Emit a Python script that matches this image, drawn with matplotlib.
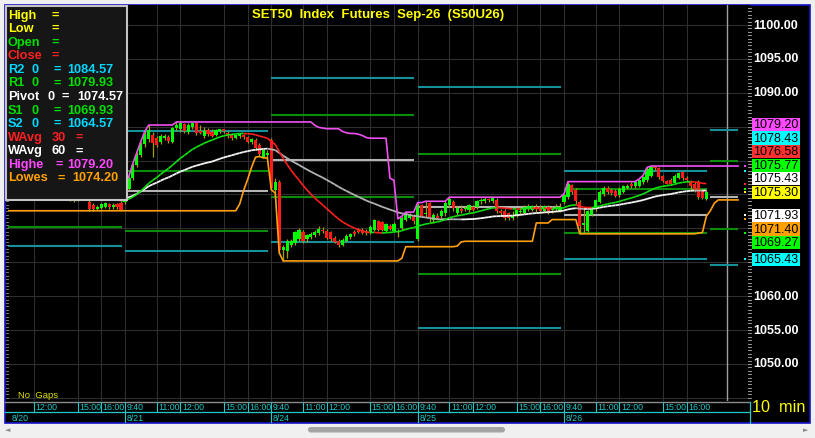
import numpy as np
import pandas as pd
import matplotlib
matplotlib.use("Agg")
import matplotlib.pyplot as plt
from matplotlib.collections import LineCollection
from matplotlib.patches import Rectangle, FancyBboxPatch

plt.rcParams['font.family'] = ['Liberation Sans', 'DejaVu Sans']

# ------------------------------------------------------------------ data
# 10-minute bars, 37 per session: 8/20, 8/21, 8/24, 8/25, 8/26
opens = [
    1073.0, 1073.4, 1076.2, 1079.5, 1080.2, 1078.3, 1076.8, 1075.9, 1075.6, 1075.5, 1076.0, 1075.8, 1075.5,
    1075.2, 1075.4, 1075.8, 1076.1, 1075.9, 1075.6, 1075.3, 1075.1, 1074.9, 1074.8, 1074.6, 1074.5, 1074.6,
    1074.7, 1074.6, 1073.9, 1073.5, 1072.9, 1073.0, 1073.2, 1073.6, 1073.1, 1073.6, 1073.8,
    1073.9, 1075.8, 1077.5, 1079.3, 1080.8, 1082.4, 1083.2, 1083.8, 1083.3, 1082.8, 1083.3, 1083.5, 1082.8,
    1084.8, 1084.6, 1085.4, 1084.2, 1084.9, 1085.6, 1084.4, 1083.6, 1084.5, 1084.2, 1083.8, 1084.3, 1084.6,
    1084.1, 1083.9, 1083.4, 1083.6, 1083.8, 1083.5, 1082.8, 1083.1, 1082.3, 1080.6, 1080.8,
    1083.1, 1075.6, 1076.8, 1066.8, 1066.6, 1067.5, 1067.8, 1068.4, 1069.5, 1068.4, 1068.8, 1069.0, 1069.3,
    1069.8, 1069.6, 1069.4, 1068.6, 1068.2, 1067.6, 1068.2, 1068.7, 1069.5, 1069.8, 1069.7, 1069.5, 1069.3,
    1069.8, 1071.1, 1070.9, 1069.6, 1070.4, 1069.6, 1069.4, 1070.0, 1071.3, 1071.6, 1071.9,
    1068.4, 1073.4, 1072.1, 1073.7, 1071.2, 1071.8, 1071.9, 1072.2, 1073.4, 1073.9, 1072.3, 1072.8, 1072.8,
    1072.7, 1073.2, 1073.1, 1074.0, 1074.0, 1074.3, 1074.0, 1074.2, 1072.5, 1072.6, 1072.2, 1071.6, 1071.9,
    1072.4, 1072.3, 1072.8, 1072.7, 1073.2, 1073.1, 1072.6, 1073.2, 1072.7, 1072.9, 1072.6,
    1073.9, 1074.6, 1076.4, 1075.6, 1073.9, 1070.5, 1069.6, 1072.0, 1072.8, 1073.9, 1075.0, 1076.0, 1075.6,
    1075.5, 1074.9, 1075.4, 1076.0, 1076.6, 1076.2, 1076.3, 1076.8, 1077.1, 1077.8, 1079.0, 1078.9, 1077.7,
    1077.0, 1077.2, 1076.7, 1077.5, 1078.3, 1077.4, 1076.9, 1076.6, 1076.9, 1075.5, 1074.4,
]
highs = [
    1073.6, 1076.5, 1079.8, 1081.4, 1080.6, 1078.7, 1077.2, 1076.3, 1075.9, 1076.2, 1076.4, 1076.1, 1075.9,
    1075.6, 1076.0, 1076.3, 1076.5, 1076.2, 1075.9, 1075.7, 1075.5, 1075.3, 1075.1, 1074.9, 1074.8, 1075.0,
    1075.0, 1074.8, 1074.3, 1073.8, 1073.4, 1073.8, 1073.9, 1073.8, 1073.7, 1073.8, 1074.1,
    1076.0, 1077.7, 1079.6, 1081.2, 1082.8, 1084.3, 1085.25, 1084.2, 1083.6, 1083.9, 1083.9, 1083.8, 1085.0,
    1085.7, 1085.7, 1085.6, 1085.5, 1085.6, 1085.7, 1085.2, 1084.9, 1084.8, 1084.7, 1084.7, 1084.7, 1084.7,
    1084.3, 1084.1, 1083.9, 1084.0, 1083.9, 1083.7, 1083.4, 1083.3, 1082.6, 1081.7, 1081.6,
    1083.3, 1077.4, 1077.1, 1067.6, 1068.5, 1068.5, 1069.6, 1070.0, 1069.8, 1069.2, 1069.4, 1069.7, 1070.3,
    1070.2, 1069.9, 1069.6, 1068.9, 1068.4, 1068.6, 1069.1, 1069.3, 1069.8, 1070.1, 1070.0, 1069.9, 1070.5,
    1071.4, 1071.3, 1071.1, 1070.8, 1070.6, 1070.9, 1069.9, 1071.8, 1072.4, 1072.2, 1072.1,
    1073.8, 1073.6, 1074.0, 1073.9, 1072.3, 1072.3, 1072.8, 1074.0, 1074.6, 1074.2, 1073.3, 1073.4, 1073.3,
    1073.6, 1073.5, 1074.2, 1074.5, 1074.6, 1074.5, 1074.6, 1074.5, 1072.8, 1072.8, 1072.4, 1072.6, 1072.9,
    1073.2, 1073.4, 1073.6, 1073.5, 1073.6, 1073.4, 1073.5, 1073.5, 1073.3, 1073.6, 1073.8,
    1075.1, 1076.9, 1076.6, 1075.9, 1074.2, 1072.8, 1072.7, 1073.2, 1074.4, 1075.6, 1076.2, 1076.3, 1075.9,
    1075.8, 1076.1, 1076.4, 1076.6, 1076.9, 1076.9, 1077.3, 1077.8, 1079.0, 1079.2, 1079.2, 1079.1, 1077.9,
    1077.2, 1077.4, 1078.0, 1078.3, 1078.5, 1077.7, 1077.1, 1076.9, 1077.1, 1075.8, 1075.6,
]
lows = [
    1072.6, 1073.2, 1076.0, 1078.8, 1077.9, 1076.4, 1075.6, 1075.2, 1074.8, 1075.3, 1075.6, 1075.3, 1075.0,
    1074.8, 1075.2, 1075.5, 1075.7, 1075.4, 1075.0, 1074.9, 1074.6, 1074.5, 1074.4, 1074.0, 1073.9, 1074.0,
    1074.3, 1074.3, 1072.6, 1072.6, 1072.7, 1072.9, 1073.0, 1072.9, 1072.9, 1072.9, 1072.6,
    1073.6, 1075.6, 1077.2, 1079.0, 1080.5, 1082.0, 1082.8, 1080.6, 1082.0, 1082.5, 1083.0, 1082.6, 1082.6,
    1084.4, 1084.2, 1084.1, 1083.9, 1084.6, 1083.8, 1083.9, 1083.4, 1083.7, 1083.5, 1083.6, 1084.1, 1084.1,
    1083.4, 1083.1, 1083.2, 1083.4, 1083.2, 1082.6, 1082.5, 1081.6, 1080.7, 1080.4, 1080.4,
    1075.7, 1075.2, 1066.4, 1065.2, 1065.6, 1067.3, 1067.5, 1068.1, 1067.9, 1068.0, 1068.5, 1068.8, 1069.0,
    1069.3, 1068.4, 1068.2, 1067.8, 1067.3, 1067.4, 1068.0, 1068.5, 1068.9, 1069.3, 1069.1, 1069.0, 1069.1,
    1069.6, 1069.6, 1069.6, 1069.4, 1069.7, 1069.4, 1068.7, 1069.8, 1071.1, 1071.4, 1070.6,
    1068.1, 1071.8, 1071.7, 1071.0, 1070.8, 1071.3, 1071.6, 1071.9, 1073.1, 1072.5, 1072.0, 1072.2, 1072.5,
    1072.4, 1072.5, 1072.9, 1073.6, 1073.8, 1073.9, 1073.8, 1072.3, 1071.8, 1071.3, 1071.3, 1071.3, 1071.7,
    1072.0, 1072.1, 1072.5, 1072.5, 1072.4, 1072.3, 1072.4, 1072.1, 1072.3, 1072.6, 1072.4,
    1073.6, 1074.4, 1075.1, 1073.4, 1069.2, 1069.3, 1069.4, 1071.8, 1072.6, 1073.7, 1074.8, 1075.1, 1074.9,
    1074.6, 1074.7, 1075.2, 1075.8, 1075.9, 1076.0, 1076.1, 1076.6, 1076.9, 1077.6, 1078.6, 1077.3, 1076.9,
    1076.5, 1076.4, 1076.5, 1077.3, 1077.2, 1076.9, 1075.8, 1075.3, 1074.4, 1074.3, 1074.2,
]
closes = [
    1073.4, 1076.2, 1079.5, 1080.2, 1078.3, 1076.8, 1075.9, 1075.6, 1075.5, 1076.0, 1075.8, 1075.5, 1075.2,
    1075.4, 1075.8, 1076.1, 1075.9, 1075.6, 1075.3, 1075.1, 1074.9, 1074.8, 1074.6, 1074.5, 1074.6, 1074.7,
    1074.6, 1074.4, 1072.8, 1072.8, 1073.2, 1073.6, 1073.7, 1073.1, 1073.5, 1073.1, 1072.7,
    1075.8, 1077.5, 1079.3, 1080.8, 1082.4, 1083.9, 1084.5, 1082.6, 1082.3, 1083.6, 1083.7, 1082.9, 1084.8,
    1085.2, 1085.5, 1084.4, 1085.2, 1085.5, 1084.1, 1084.0, 1084.3, 1083.9, 1083.7, 1084.5, 1084.6, 1084.3,
    1083.6, 1083.3, 1083.8, 1083.9, 1083.5, 1082.8, 1083.2, 1081.8, 1081.0, 1081.5, 1081.1,
    1076.0, 1076.8, 1066.8, 1067.3, 1068.2, 1068.2, 1069.4, 1069.7, 1068.2, 1069.0, 1069.2, 1069.4, 1069.9,
    1069.6, 1068.6, 1068.4, 1068.0, 1067.6, 1068.3, 1068.9, 1069.1, 1069.2, 1069.5, 1069.3, 1069.3, 1070.2,
    1071.2, 1069.8, 1069.8, 1070.6, 1069.9, 1070.7, 1069.6, 1071.5, 1072.2, 1072.0, 1071.1,
    1073.5, 1071.8, 1072.3, 1071.5, 1072.0, 1071.6, 1072.6, 1073.7, 1074.3, 1073.0, 1073.0, 1072.6, 1073.0,
    1073.4, 1072.7, 1074.0, 1074.1, 1074.4, 1074.2, 1074.5, 1072.6, 1072.3, 1071.5, 1071.6, 1071.8, 1072.7,
    1072.6, 1073.2, 1073.3, 1073.3, 1072.8, 1072.6, 1073.3, 1072.4, 1072.9, 1073.2, 1073.1,
    1074.9, 1076.6, 1075.3, 1074.0, 1070.3, 1070.8, 1072.5, 1073.0, 1074.2, 1075.4, 1076.0, 1075.3, 1075.2,
    1074.8, 1075.8, 1076.2, 1076.3, 1076.2, 1076.8, 1077.1, 1077.6, 1078.8, 1079.0, 1078.9, 1077.6, 1077.0,
    1076.6, 1076.6, 1077.8, 1078.1, 1077.4, 1077.1, 1076.2, 1075.6, 1074.6, 1074.5, 1075.3,
]

day_labels = ['8/20', '8/21', '8/24', '8/25', '8/26']
day_start = [0, 37, 74, 111, 148]
time_labels = ['9:40', '11:00', '12:00', '15:00', '16:00']
time_offsets = [0, 8, 14, 25, 31]

# daily floor-trader pivot levels (last entry = next session, projected)
pivot_start = [0, 37, 74, 111, 148, 185]
pivot_end = [36.2, 73.2, 110.2, 147.2, 184.2, 192.0]
lvl_r2 = [1082.0, 1084.4, 1092.2, 1090.9, 1078.43, 1084.57]
lvl_r1 = [1078.0, 1078.5, 1086.7, 1081.0, 1075.77, 1079.93]
lvl_p = [1075.2, 1075.5, 1080.1, 1073.1, 1071.93, 1074.57]
lvl_s1 = [1070.2, 1069.6, 1074.6, 1063.2, 1069.27, 1069.93]
lvl_s2 = [1067.4, 1066.6, 1068.0, 1055.3, 1065.43, 1064.57]

hl_period = 30
wavg_fast = 30
wavg_slow = 60
cursor_bar = 189.2

price_ticks = [1050, 1055, 1060, 1065, 1070, 1075, 1080, 1085, 1090, 1095, 1100]

tag_values = [1079.20, 1078.43, 1076.58, 1075.77, 1075.43, 1075.30, 1071.93, 1071.40, 1069.27, 1065.43]
tag_colors = ['#ff48ff', '#00ffff', '#ff3030', '#00ff00', '#ffffff', '#ffff00', '#ffffff', '#ffa000',
              '#00ff00', '#00ffff']
tag_anchor = 5   # last close

legend_keys = ['High', 'Low', 'Open', 'Close', 'R2', 'R1', 'Pivot', 'S1', 'S2', 'WAvg', 'WAvg', 'Highe', 'Lowes']
legend_params = ['', '', '', '', '0', '0', '0', '0', '0', '30', '60', '', '']
legend_values = ['', '', '', '', '1084.57', '1079.93', '1074.57', '1069.93', '1064.57', '', '', '1079.20', '1074.20']
legend_colors = ['#ffff00', '#ffff00', '#00e000', '#ff2020', '#00d8ff', '#00e000', '#ffffff', '#00e000',
                 '#00d8ff', '#ff2020', '#ffffff', '#ff48ff', '#ffa000']

# ------------------------------------------------------------------ figure
W, H = 815, 438
fig = plt.figure(figsize=(W / 100, H / 100), dpi=100)
fig.patch.set_facecolor('#f0f0f0')


def rect(x0, y0, x1, y1):
    return [x0 / W, 1 - y1 / H, (x1 - x0) / W, (y1 - y0) / H]


bg = fig.add_axes([0, 0, 1, 1], zorder=0)
bg.set_xlim(0, W)
bg.set_ylim(H, 0)
bg.axis('off')
bg.add_patch(Rectangle((4.5, 4.5), 805, 418.5, facecolor='black', edgecolor='#1414c8', lw=1.2))

ax = fig.add_axes(rect(8, 5, 750, 401), zorder=1)
ax.set_facecolor('black')
ax.set_xlim(7.42, 195.03)
ax.set_ylim(1044.54, 1102.95)
for s in ax.spines.values():
    s.set_visible(False)
ax.set_xticks([])
ax.set_yticks([])

ov = fig.add_axes([0, 0, 1, 1], zorder=2)
ov.set_xlim(0, W)
ov.set_ylim(H, 0)
ov.axis('off')
ov.patch.set_alpha(0)


def xpix(i):
    return ax.transData.transform((i, 1070))[0]


def ypix(p):
    return H - ax.transData.transform((0, p))[1]


o = np.array(opens)
h = np.array(highs)
l = np.array(lows)
c = np.array(closes)
idx = np.arange(len(c))

# grid
grid_col = '#2e2e2e'
ax.hlines(np.arange(1045, 1101, 5), 0, 200, colors=grid_col, lw=0.8, zorder=0.5)
tick_bars, tick_text = [], []
for ds in day_start:
    for off, lab in zip(time_offsets, time_labels):
        if xpix(ds + off) > 20:
            tick_bars.append(ds + off)
            tick_text.append(lab)
for b in tick_bars:
    ax.axvline(b, color=grid_col, lw=0.8, zorder=0.5)
ax.axvline(cursor_bar, color='#a0a0a0', lw=1.0, zorder=0.8)

# pivot levels
for vals, col in [(lvl_r2, '#16909a'), (lvl_s2, '#16909a'), (lvl_r1, '#0c8c0c'), (lvl_s1, '#0c8c0c'),
                  (lvl_p, '#b4b4b4')]:
    ax.hlines(vals, pivot_start, pivot_end, colors=col, lw=1.5, zorder=1)

# candles
ax.vlines(idx, l, h, colors='#a0a000', lw=0.9, zorder=2)
body_lo = np.minimum(o, c)
body_h = np.maximum(np.abs(c - o), 0.14)
ax.bar(idx, body_h, bottom=body_lo, width=0.8,
       color=['#00ff00' if up else '#ff1a1a' for up in (c >= o)], linewidth=0, zorder=2.2)


# weighted averages (colour by slope)
def wavg(vals, n):
    out = np.empty(len(vals))
    for i in range(len(vals)):
        k = min(n, i + 1)
        w = np.arange(1, k + 1)
        out[i] = np.dot(vals[i - k + 1:i + 1], w) / w.sum()
    return out


def slope_line(vals, up_col, dn_col, lw):
    pts = np.column_stack([idx, vals])
    segs = np.stack([pts[:-1], pts[1:]], axis=1)
    cols = [up_col if vals[k + 1] >= vals[k] else dn_col for k in range(len(vals) - 1)]
    ax.add_collection(LineCollection(segs, colors=cols, lw=lw, zorder=3))


slope_line(wavg(c, wavg_slow), '#f4f4f4', '#b4b4b4', 1.3)
slope_line(wavg(c, wavg_fast), '#10e010', '#ff2020', 1.2)

# highest / lowest channel (projected a few bars past the last one)
ext = np.arange(int(pivot_end[-1]) + 1)
hi_s = pd.Series(np.r_[h, np.full(len(ext) - len(h), np.nan)]).rolling(hl_period, min_periods=1).max()
lo_s = pd.Series(np.r_[l, np.full(len(ext) - len(l), np.nan)]).rolling(hl_period, min_periods=1).min()
ax.plot(ext, hi_s, color='#f050f0', lw=1.2, zorder=3.5)
ax.plot(ext, lo_s, color='#ffa010', lw=1.2, zorder=3.5)

# ------------------------------------------------------------------ overlay (chrome)
cyan = '#20c8c8'
ov.plot([5, 750], [401.5, 401.5], color='#8c8c8c', lw=1.0)
ov.plot([5, 750], [412.3, 412.3], color=cyan, lw=0.9)
ov.plot([750, 750], [401.5, 423], color=cyan, lw=0.9)
for b, lab in zip(tick_bars, tick_text):
    x = xpix(b)
    ov.plot([x, x], [402, 412], color=cyan, lw=0.8)
    ov.text(x + 1.5, 407.3, lab, color=cyan, fontsize=6.3, va='center', ha='left')
for ds, lab in zip(day_start, day_labels):
    x = xpix(ds)
    if x > 8:
        ov.plot([x, x], [412.3, 422], color=cyan, lw=0.8)
    ov.text(max(x + 1.5, 11.5), 418.3, lab, color=cyan, fontsize=6.3, va='center', ha='left')

# axis rulers
for p in np.arange(1045, 1103, 0.5):
    y = ypix(p)
    ov.plot([747.5, 750.5], [y, y], color='#b0b0b0', lw=0.6)
    ov.plot([5.5, 8], [y, y], color='#909090', lw=0.6)

# price tags stacked around the last close
true_y = [ypix(v) for v in tag_values]
tag_y = list(true_y)
step = 13.6
for j in range(tag_anchor - 1, -1, -1):
    tag_y[j] = min(true_y[j], tag_y[j + 1] - step)
for j in range(tag_anchor + 1, len(tag_values)):
    tag_y[j] = max(true_y[j], tag_y[j - 1] + step)

for p in price_ticks:
    y = ypix(p)
    if all(abs(y - ty) > 12 for ty in tag_y):
        ov.text(753, y + 0.5, f'{p:.2f}', color='white', fontsize=9, fontweight='bold', va='center', ha='left')

for v, col, ty, yy in zip(tag_values, tag_colors, tag_y, true_y):
    ov.add_patch(Rectangle((752, ty - 6.6), 48, 13.2, facecolor=col, edgecolor='none', zorder=5))
    ov.text(776, ty + 0.6, f'{v:.2f}', ha='center', va='center', fontsize=9, color='black', zorder=6)
    ov.add_patch(Rectangle((744, yy - 1), 2, 2, facecolor=col, edgecolor='none', zorder=5))

# title and captions
ov.text(378, 15, 'SET50  Index  Futures  Sep-26  (S50U26)', ha='center', va='center',
        color='#ffff00', fontsize=9.5, fontweight='bold')
ov.text(18, 396, 'No  Gaps', color='#e0e000', fontsize=6.8, va='center', ha='left')
ov.text(752, 407.5, '10  min', color='#ffff00', fontsize=11.7, va='center', ha='left')

# data window (legend)
ov.add_patch(Rectangle((5.5, 5.5), 121.5, 194.5, facecolor='#161616', edgecolor='#c4c4c4', lw=1.5, zorder=4))
eq_x = {'High': 52, 'Low': 52, 'Open': 52, 'Close': 52, 'R2': 53, 'R1': 53, 'Pivot': 62, 'S1': 53,
        'S2': 53, 'WAvg': 76, 'Highe': 55, 'Lowes': 57}
par_x = {'R2': 32, 'R1': 32, 'Pivot': 47, 'S1': 32, 'S2': 32, 'WAvg': 52}
val_x = {'R2': 67, 'R1': 67, 'Pivot': 77, 'S1': 67, 'S2': 67, 'Highe': 67, 'Lowes': 72}
for k, (key, par, val, col) in enumerate(zip(legend_keys, legend_params, legend_values, legend_colors)):
    y = 15.5 + 13.58 * k
    kw = dict(color=col, fontsize=9.2, fontweight='bold', va='center', ha='left', zorder=6)
    ov.text(8, y, key, **kw)
    if par:
        ov.text(par_x[key], y, par, **kw)
    ov.text(eq_x[key], y, '=', **kw)
    if val:
        ov.text(val_x[key], y, val, **kw)

# scroll bar
ov.add_patch(FancyBboxPatch((308, 427), 197, 5.5, boxstyle='round,pad=0,rounding_size=2.7',
                            facecolor='#a4a4a4', edgecolor='none'))
ov.text(8, 430, '\u25c4', color='#8c8c8c', fontsize=5, ha='center', va='center', family='DejaVu Sans')
ov.text(806, 430, '\u25ba', color='#8c8c8c', fontsize=5, ha='center', va='center', family='DejaVu Sans')

fig.savefig('out.png', dpi=100, facecolor=fig.get_facecolor())
